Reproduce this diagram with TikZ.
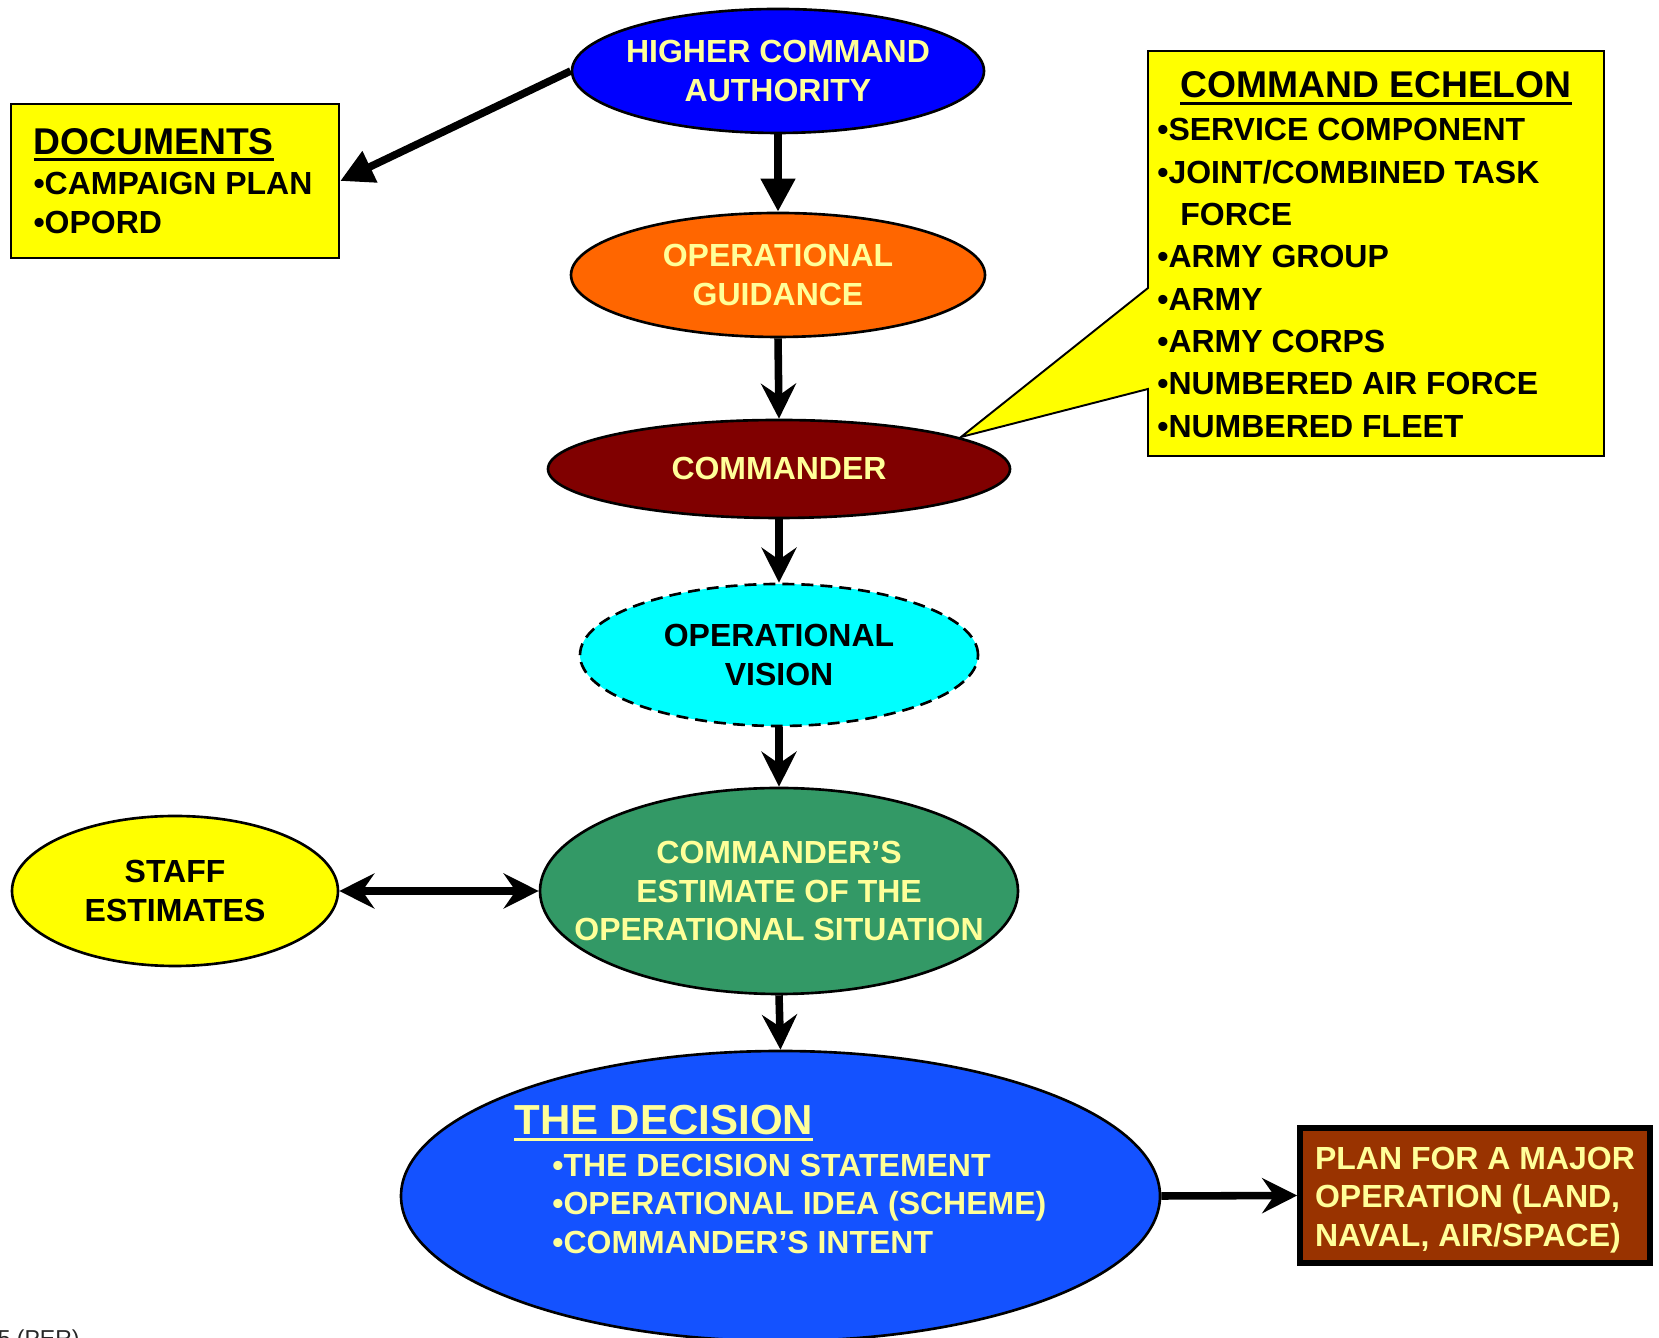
\documentclass[tikz,border=0pt]{standalone}
\usepackage{fontspec}
\setmainfont{Liberation Sans}
\usetikzlibrary{arrows.meta, positioning, shapes.geometric}
\usepackage{xcolor}
\definecolor{hcablue}{RGB}{0,0,255}
\definecolor{guidorange}{RGB}{255,102,0}
\definecolor{cmdrred}{RGB}{128,0,0}
\definecolor{visioncyan}{RGB}{0,255,255}
\definecolor{estgreen}{RGB}{51,153,102}
\definecolor{boxyellow}{RGB}{255,255,0}
\definecolor{decblue}{RGB}{20,82,255}
\definecolor{planbrown}{RGB}{153,51,0}
\definecolor{paleyellow}{RGB}{255,255,153}
\newcommand{\bodysize}{\fontsize{18.2pt}{22pt}\selectfont}
\newcommand{\headsize}{\fontsize{21.2pt}{24pt}\selectfont}
\newcommand{\undertext}[1]{\vtop{\hbox{#1}\kern1.8pt\hrule height 1.8pt}}
\tikzset{
  oval/.style  = {ellipse, draw=black, line width=1.5pt, inner xsep=-1cm, inner ysep=0pt,
                  align=center, font=\bfseries\bodysize},
  panel/.style = {rectangle, draw=black, line width=1.1pt, fill=boxyellow, align=left,
                  inner sep=0pt, font=\bfseries\bodysize},
  tri/.style   = {-{Triangle[length=0.66cm, width=0.66cm]}, line width=4.3pt},
  flow/.style  = {-{Stealth[length=0.7cm, width=0.7cm, inset=0.24cm]}, line width=4.3pt},
}

\begin{document}
\begin{tikzpicture}[
    pale/.style={text=paleyellow},
    callout/.style={draw=black, line width=1.1pt, fill=boxyellow, line join=miter},
    both/.style={{Stealth[length=0.7cm, width=0.7cm, inset=0.24cm]}-{Stealth[length=0.7cm, width=0.7cm, inset=0.24cm]},
                 line width=4.3pt}
]
\useasboundingbox (0,0) rectangle (33.18,26.74);

% ---------------- main chain ----------------
\node[oval, fill=hcablue, pale, minimum width=8.24cm, minimum height=2.48cm] (hca) at (15.56,25.32)
  {HIGHER COMMAND\\AUTHORITY};
\node[oval, fill=guidorange, pale, minimum width=8.28cm, minimum height=2.48cm] (guid) at (15.56,21.24)
  {OPERATIONAL\\GUIDANCE};
\node[oval, fill=cmdrred, pale, minimum width=9.24cm, minimum height=1.96cm] (cmdr) at (15.58,17.36)
  {COMMANDER};
\node[oval, fill=visioncyan, dash pattern=on 6.8pt off 4pt, minimum width=7.96cm, minimum height=2.84cm]
  (vision) at (15.58,13.64) {OPERATIONAL\\VISION};
\node[oval, fill=estgreen, pale, minimum width=9.56cm, minimum height=4.12cm] (est) at (15.58,8.92)
  {COMMANDER’S\\ESTIMATE OF THE\\OPERATIONAL SITUATION};
\node[oval, fill=decblue, minimum width=15.18cm, minimum height=5.8cm] (dec) at (15.61,2.82) {};

\node[anchor=north west, pale, align=left, inner sep=0pt, font=\bfseries\bodysize]
  (dectext) at (10.28,4.64)
  {\undertext{\fontsize{23.9pt}{27pt}\selectfont THE DECISION}\\[0.06cm]
   \hspace*{0.76cm}•THE DECISION STATEMENT\\
   \hspace*{0.76cm}•OPERATIONAL IDEA (SCHEME)\\
   \hspace*{0.76cm}•COMMANDER’S INTENT};

% ---------------- side boxes ----------------
\node[oval, fill=boxyellow, minimum width=6.52cm, minimum height=3.0cm] (staff) at (3.50,8.92)
  {STAFF\\ESTIMATES};

\node[panel, minimum width=6.57cm, minimum height=3.08cm] (docs) at (3.50,23.12)
  {\hspace*{-0.08cm}\undertext{\headsize DOCUMENTS}\\[0.04cm] \hspace*{-0.08cm}•CAMPAIGN PLAN\\
   \hspace*{-0.08cm}•OPORD};

\node[panel, fill=planbrown, pale, line width=3.2pt, minimum width=7.0cm, minimum height=2.7cm]
  (plan) at (29.5,2.83) {\rule{0pt}{0.63cm}PLAN FOR A MAJOR\\OPERATION (LAND,\\NAVAL, AIR/SPACE)};

% ---------------- command echelon callout ----------------
\draw[callout] (22.96,25.72) -- (32.08,25.72) -- (32.08,17.62) -- (22.96,17.62)
  -- (22.96,18.96) -- (19.22,18.00) -- (22.96,20.98) -- cycle;

\node[anchor=base, inner sep=0pt, font=\bfseries\headsize] (echtitle) at (27.52,24.78)
  {\undertext{COMMAND ECHELON}};
\node[anchor=north west, align=left, inner sep=0pt,
      font=\bfseries\fontsize{18.2pt}{24.1pt}\selectfont] (echlist) at (23.14,24.38)
  {•SERVICE COMPONENT\\
   •JOINT/COMBINED TASK\\
   \hspace*{0.46cm}FORCE\\
   •ARMY GROUP\\
   •ARMY\\
   •ARMY CORPS\\
   •NUMBERED AIR FORCE\\
   •NUMBERED FLEET};

\node[anchor=base east, inner sep=0pt, text=black!85, font=\fontsize{13.1pt}{15pt}\selectfont]
  (footer) at (1.6,-0.2) {5 (PER)};

% ---------------- arrows ----------------
\draw[tri] (hca.west) -- (docs.east);
\draw[tri] (hca.south) -- (guid.north);
\draw[flow] (guid.south) -- (cmdr.north);
\draw[flow] (cmdr.south) -- (vision.north);
\draw[flow] (vision.south) -- (est.north);
\draw[flow] (est.south) -- (dec.north);
\draw[both] (staff.east) -- (est.west);
\draw[flow] (dec.east) -- (plan.west);

\end{tikzpicture}
\end{document}
